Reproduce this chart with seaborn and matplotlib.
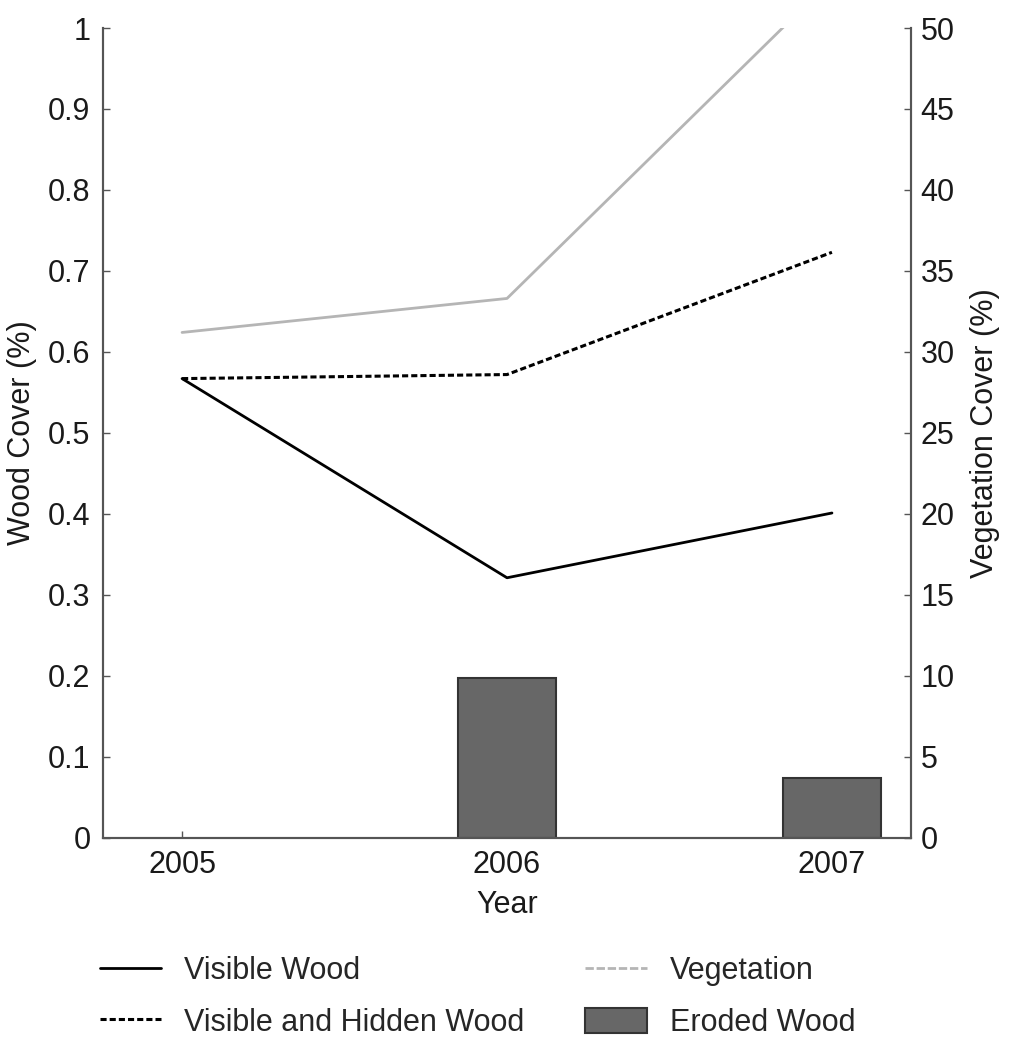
import matplotlib
matplotlib.use("Agg")
import matplotlib.pyplot as plt
import seaborn as sns
import pandas as pd
from matplotlib.patches import Patch
from matplotlib.lines import Line2D

years = [2005, 2006, 2007]
visible_wood = [0.567, 0.321, 0.401]
visible_hidden_wood = [0.567, 0.572, 0.723]
vegetation = [31.2, 33.3, 53.0]
eroded_years = [2006, 2007]
eroded_wood = [0.197, 0.074]
left_ticks = [0, 0.1, 0.2, 0.3, 0.4, 0.5, 0.6, 0.7, 0.8, 0.9, 1]
left_ticklabels = ["0", "0.1", "0.2", "0.3", "0.4", "0.5", "0.6", "0.7", "0.8", "0.9", "1"]
right_ticks = [0, 5, 10, 15, 20, 25, 30, 35, 40, 45, 50]

sns.set_style("white")
plt.rcParams['font.family'] = ['Liberation Sans', 'DejaVu Sans']
FS = 22
TXT = "#1a1a1a"

df = pd.DataFrame({"Year": years, "Visible": visible_wood,
                   "Hidden": visible_hidden_wood, "Veg": vegetation})

fig = plt.figure(figsize=(10.11, 10.38), dpi=100)
ax = fig.add_axes([0.102, 0.193, 0.799, 0.78])
ax2 = ax.twinx()

ax.bar(eroded_years, eroded_wood, width=0.30, color="#676767",
       edgecolor="#333333", linewidth=1.5, zorder=2)
sns.lineplot(data=df, x="Year", y="Visible", ax=ax, color="black", lw=2, zorder=3)
sns.lineplot(data=df, x="Year", y="Hidden", ax=ax, color="black", lw=2.2,
             linestyle=(0, (2, 1)), zorder=3)
sns.lineplot(data=df, x="Year", y="Veg", ax=ax2, color="#b5b5b5", lw=2, zorder=3)

ax.set_xlim(2004.757, 2007.243)
ax.set_ylim(0, 1)
ax2.set_ylim(0, 50)
ax.set_xticks(years)
ax.set_xticklabels([str(y) for y in years], fontsize=FS, color=TXT)
ax.set_yticks(left_ticks)
ax.set_yticklabels(left_ticklabels, fontsize=FS, color=TXT)
ax2.set_yticks(right_ticks)
ax2.set_yticklabels([str(t) for t in right_ticks], fontsize=FS, color=TXT)

ax.set_xlabel("Year", fontsize=FS, labelpad=7, color=TXT)
ax.set_ylabel("Wood Cover (%)", fontsize=FS, labelpad=8, color=TXT)
ax2.set_ylabel("Vegetation Cover (%)", fontsize=FS, labelpad=11, color=TXT)

for a in (ax, ax2):
    a.spines["top"].set_visible(False)
    for s in ("left", "right", "bottom"):
        a.spines[s].set_color("#555555")
        a.spines[s].set_linewidth(1.5)
ax.tick_params(axis="both", direction="in", length=5, width=1, colors="#555555",
               labelcolor=TXT, left=True, bottom=True, pad=9)
ax2.tick_params(axis="y", direction="in", length=5, width=1, colors="#555555",
                labelcolor=TXT, right=True, pad=7)

handles = [
    Line2D([], [], color="black", lw=2),
    Line2D([], [], color="black", lw=2.2, linestyle=(0, (2, 1))),
    Line2D([], [], color="#b5b5b5", lw=2, linestyle=(0, (3, 1))),
    Patch(facecolor="#676767", edgecolor="#333333", linewidth=1.5),
]
labels = ["Visible Wood", "Visible and Hidden Wood", "Vegetation", "Eroded Wood"]
fig.legend(handles, labels, loc="upper left", bbox_to_anchor=(0.099, 0.079),
           ncol=2, frameon=False, fontsize=FS, handlelength=2.0,
           handleheight=0.9, columnspacing=2.0, labelspacing=0.7,
           handletextpad=0.75, borderpad=0, borderaxespad=0)

fig.savefig("out.png", dpi=100, facecolor="white")
